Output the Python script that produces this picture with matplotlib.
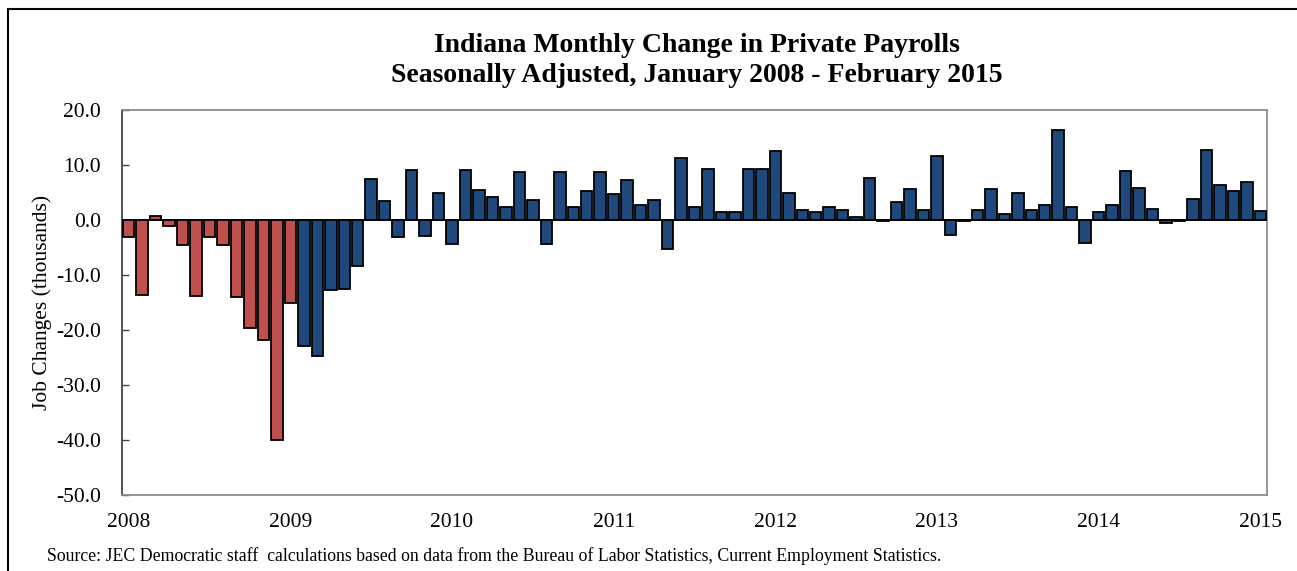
import matplotlib.pyplot as plt
from matplotlib.patches import Rectangle

# monthly change, thousands; first 13 months red, rest blue
red_values = [-3.0, -13.6, 0.8, -1.1, -4.5, -13.8, -3.1, -4.5, -14.0, -19.6,
              -21.9, -40.0, -15.1]
blue_values = [-22.9, -24.7, -12.8, -12.5, -8.3, 7.5, 3.4, -3.0, 9.1, -2.9,
               5.0, -4.4, 9.1, 5.4, 4.1, 2.3, 8.7, 3.6, -4.3, 8.8,
               2.4, 5.2, 8.7, 4.7, 7.3, 2.7, 3.6, -5.2, 11.2, 2.3,
               9.3, 1.5, 1.5, 9.3, 9.3, 12.5, 4.9, 1.8, 1.5, 2.3,
               1.8, 0.5, 7.7, -0.2, 3.2, 5.6, 1.9, 11.7, -2.7, -0.1,
               1.8, 5.6, 1.1, 4.9, 1.8, 2.7, 16.4, 2.3, -4.1, 1.4,
               2.7, 9.0, 5.9, 2.0, -0.5, -0.2, 3.8, 12.7, 6.4, 5.2,
               7.0, 1.7]
years = ['2008', '2009', '2010', '2011', '2012', '2013', '2014', '2015']

plt.rcParams['font.family'] = ['Liberation Serif', 'DejaVu Serif']

fig = plt.figure(figsize=(12.97, 5.71), dpi=100)
ax = fig.add_axes([122 / 1297, 1 - 495 / 571, (1267 - 122) / 1297, (495 - 110) / 571])

n_red = len(red_values)
x_red = range(n_red)
x_blue = range(n_red, n_red + len(blue_values))
ax.bar(x_red, red_values, width=0.85, color='#C0504D', edgecolor='black', linewidth=1.3, zorder=3)
ax.bar(x_blue, blue_values, width=0.85, color='#1F497D', edgecolor='black', linewidth=1.3, zorder=3)
ax.axhline(0, color='black', linewidth=1.2, zorder=2)

n = n_red + len(blue_values)
ax.set_xlim(-0.5, n - 0.5)
ax.set_ylim(-50, 20)
ax.set_yticks(range(-50, 21, 10))
ax.set_yticklabels([f'{v:.1f}' for v in range(-50, 21, 10)], fontsize=15.5)
ax.set_xticks(range(0, n, 12))
ax.set_xticklabels(years, fontsize=15.5)
ax.tick_params(axis='x', length=0, pad=13)
ax.tick_params(axis='y', direction='in', length=5, width=1, color='#444444', pad=15)

for side in ['top', 'right', 'bottom']:
    ax.spines[side].set_color('#8c8c8c')
    ax.spines[side].set_linewidth(1.3)
ax.spines['left'].set_color('#444444')
ax.spines['left'].set_linewidth(1.3)

ax.set_ylabel('Job Changes (thousands)', fontsize=15.5, labelpad=3)

fig.text(0.537, 1 - 45 / 571, 'Indiana Monthly Change in Private Payrolls',
         ha='center', va='center', fontsize=20, fontweight='bold')
fig.text(0.537, 1 - 75 / 571, 'Seasonally Adjusted, January 2008 - February 2015',
         ha='center', va='center', fontsize=20, fontweight='bold')
fig.text(47 / 1297, 1 - 556 / 571,
         'Source: JEC Democratic staff  calculations based on data from the Bureau of Labor Statistics, Current Employment Statistics.',
         ha='left', va='center', fontsize=12.8)

# outer frame (right and bottom edges fall outside the image)
fig.patches.append(Rectangle((8 / 1297, -0.1), 1.1, 1 - 9 / 571 + 0.1,
                             transform=fig.transFigure, fill=False,
                             edgecolor='black', linewidth=1.5))

fig.savefig('out.png', dpi=100)
